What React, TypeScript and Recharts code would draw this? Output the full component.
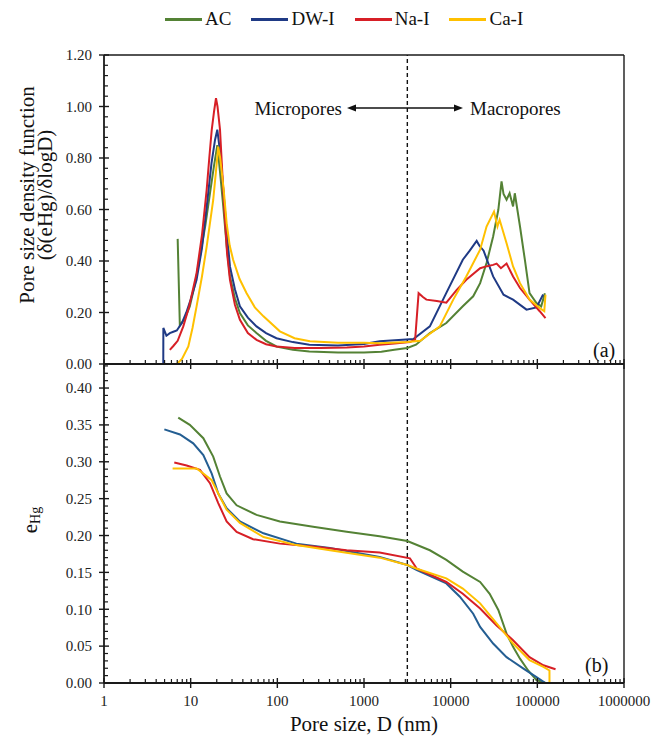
import React from 'react';
import { LineChart, Line, XAxis, YAxis, ReferenceLine, Legend } from 'recharts';

const FONT = 'Liberation Serif, DejaVu Serif, serif';
const AXIS = '#1a1a1a';

const seriesNames = ['AC', 'DW-I', 'Na-I', 'Ca-I'];
const seriesColorsTop = ['#548235', '#1F3A85', '#D71F26', '#FFC000'];
const seriesColorsBottom = ['#548235', '#245E92', '#D71F26', '#FFC000'];

// (a) Pore size density function: pore size D (nm) / value
const acPsdD = [7.08, 7.5, 8.51, 9.77, 11.2, 12.8, 14.8, 16.7, 18.6, 20.3, 21.9, 23.8, 26.0, 28.4, 32.4, 37.0, 45.7, 57.5, 74.1, 97.7, 151, 234, 501, 1000, 1585, 2239, 3162, 3981, 5754, 8913, 13804, 18197, 21878, 25942, 30903, 35481, 38637, 40738, 44157, 47863, 52481, 54954, 63096, 71779, 81283, 97724, 110917, 122180];
const acPsdV = [0.486, 0.15, 0.175, 0.224, 0.31, 0.417, 0.54, 0.663, 0.77, 0.85, 0.74, 0.61, 0.46, 0.34, 0.255, 0.198, 0.15, 0.12, 0.09, 0.068, 0.055, 0.049, 0.045, 0.045, 0.048, 0.055, 0.062, 0.075, 0.12, 0.159, 0.224, 0.263, 0.314, 0.392, 0.495, 0.599, 0.709, 0.66, 0.638, 0.663, 0.612, 0.663, 0.534, 0.405, 0.275, 0.237, 0.224, 0.275];

const dwPsdD = [4.83, 4.84, 5.25, 5.75, 6.31, 6.92, 7.94, 8.91, 10, 11.7, 13.5, 15.3, 17.4, 19.1, 20.3, 21.9, 23.8, 26.0, 28.4, 32.4, 37.0, 45.7, 57.5, 74.1, 97.7, 151, 234, 501, 1000, 1514, 2512, 3715, 5754, 8913, 13804, 16596, 19953, 21380, 23988, 30903, 40738, 52481, 74989, 97724, 116681];
const dwPsdV = [0, 0.14, 0.11, 0.12, 0.125, 0.13, 0.16, 0.2, 0.25, 0.327, 0.45, 0.61, 0.78, 0.87, 0.91, 0.82, 0.676, 0.52, 0.379, 0.29, 0.224, 0.18, 0.146, 0.12, 0.10, 0.085, 0.075, 0.072, 0.078, 0.088, 0.093, 0.097, 0.146, 0.276, 0.405, 0.44, 0.478, 0.46, 0.44, 0.34, 0.269, 0.25, 0.211, 0.22, 0.27];

const naPsdD = [5.75, 6.31, 7.08, 8.22, 9.55, 11.7, 13.5, 15.3, 16.4, 17.5, 18.6, 19.6, 20.4, 21.8, 23.2, 24.9, 26.3, 28.4, 32.4, 37.0, 45.7, 57.5, 74.1, 97.7, 158, 316, 631, 1000, 1514, 2239, 3388, 3890, 4266, 4786, 5248, 6918, 8913, 11749, 15136, 21878, 26303, 30903, 33884, 38019, 44157, 52481, 63096, 81283, 107152, 124165];
const naPsdV = [0.055, 0.07, 0.09, 0.146, 0.22, 0.353, 0.5, 0.676, 0.80, 0.909, 0.98, 1.032, 1.0, 0.91, 0.74, 0.56, 0.43, 0.327, 0.23, 0.172, 0.12, 0.094, 0.077, 0.068, 0.062, 0.062, 0.064, 0.068, 0.075, 0.08, 0.085, 0.095, 0.275, 0.26, 0.25, 0.245, 0.238, 0.288, 0.327, 0.372, 0.38, 0.385, 0.39, 0.372, 0.39, 0.34, 0.295, 0.25, 0.204, 0.178];

const caPsdD = [6.03, 6.92, 7.94, 9.40, 10.5, 11.7, 13.5, 15.3, 18.2, 20.0, 20.8, 21.9, 24.0, 26.0, 28.2, 30.9, 36.7, 44.2, 55.0, 69.2, 107, 158, 238, 501, 1000, 1514, 3162, 4467, 7499, 10715, 15136, 21878, 25942, 31623, 34674, 36728, 44157, 52481, 63096, 81283, 107152, 120226, 124165];
const caPsdV = [0, 0, 0.02, 0.068, 0.14, 0.224, 0.34, 0.456, 0.637, 0.78, 0.844, 0.80, 0.68, 0.547, 0.46, 0.405, 0.33, 0.275, 0.22, 0.185, 0.127, 0.1, 0.088, 0.083, 0.083, 0.081, 0.085, 0.09, 0.146, 0.25, 0.34, 0.444, 0.534, 0.592, 0.534, 0.56, 0.469, 0.379, 0.314, 0.25, 0.217, 0.205, 0.269];

// (b) eHg: pore size D (nm) / value
const acEhgD = [7.19, 9.77, 14.0, 18.2, 21.8, 26.0, 33.9, 57.5, 107, 259, 631, 1514, 3162, 5754, 8913, 13804, 21878, 28184, 35481, 44157, 52481, 63096, 78343, 97724, 124165];
const acEhgV = [0.36, 0.35, 0.332, 0.307, 0.28, 0.257, 0.241, 0.228, 0.219, 0.212, 0.205, 0.199, 0.1925, 0.18, 0.167, 0.151, 0.137, 0.121, 0.099, 0.067, 0.049, 0.033, 0.017, 0.004, 0.0];

const dwEhgD = [4.97, 7.53, 10.7, 14.0, 17.5, 20.8, 26.0, 37.0, 69.2, 166, 405, 1514, 3162, 4074, 8913, 12764, 18197, 21878, 30903, 44157, 69183, 97724, 124165];
const dwEhgV = [0.344, 0.337, 0.325, 0.309, 0.284, 0.257, 0.237, 0.219, 0.203, 0.189, 0.183, 0.171, 0.160, 0.153, 0.135, 0.117, 0.094, 0.076, 0.0535, 0.035, 0.0196, 0.008, 0.0];

const naEhgD = [6.47, 8.99, 12.8, 16.7, 20.8, 26.0, 33.9, 52.5, 107, 259, 631, 1514, 3388, 3715, 4074, 8913, 13804, 21878, 33884, 52481, 81283, 117490, 162181];
const naEhgV = [0.299, 0.295, 0.289, 0.271, 0.244, 0.219, 0.205, 0.195, 0.189, 0.185, 0.180, 0.177, 0.169, 0.162, 0.155, 0.137, 0.121, 0.101, 0.078, 0.058, 0.035, 0.024, 0.0186];

const caEhgD = [6.19, 11.7, 14.0, 17.5, 20.8, 26.0, 37.0, 69.2, 166, 405, 1514, 3162, 4074, 8913, 13804, 21878, 33884, 52481, 81283, 117490, 138038, 138100];
const caEhgV = [0.291, 0.291, 0.284, 0.275, 0.257, 0.235, 0.217, 0.198, 0.187, 0.180, 0.170, 0.160, 0.155, 0.142, 0.128, 0.108, 0.081, 0.0535, 0.031, 0.022, 0.017, 0.0];

// ticks
const xMajorTicks = [1, 10, 100, 1000, 10000, 100000, 1000000];
const xMinorMultipliers = [2, 3, 4, 5, 6, 7, 8, 9];
const topYMajor = [0, 0.2, 0.4, 0.6, 0.8, 1.0, 1.2];
const topYMinorStep = 0.04;
const bottomYMajor = [0, 0.05, 0.1, 0.15, 0.2, 0.25, 0.3, 0.35, 0.4];
const bottomYMinorStep = 0.01;
const boundaryD = 3162;

const xTicks = [
  ...xMajorTicks,
  ...xMajorTicks.slice(0, -1).flatMap((m) => xMinorMultipliers.map((k) => m * k)),
].sort((a, b) => a - b);
const topYTicks = Array.from({ length: 31 }, (_, i) => Math.round(i * topYMinorStep * 100) / 100);
const bottomYTicks = Array.from({ length: 44 }, (_, i) => Math.round(i * bottomYMinorStep * 100) / 100);

const build = (d: number[], v: number[]) => d.map((x, i) => ({ x, y: v[i] }));
const psdSeries = [build(acPsdD, acPsdV), build(dwPsdD, dwPsdV), build(naPsdD, naPsdV), build(caPsdD, caPsdV)];
const ehgSeries = [build(acEhgD, acEhgV), build(dwEhgD, dwEhgV), build(naEhgD, naEhgV), build(caEhgD, caEhgV)];

const isIn = (arr: number[], v: number) => arr.some((a) => Math.abs(a - v) < 1e-9);

const makeXTick = (showLabel: boolean) => (props: any) => {
  const { x, y, payload } = props;
  const v = payload.value;
  const major = isIn(xMajorTicks, v);
  return (
    <g>
      {major ? (
        <line x1={x} x2={x} y1={y - 5} y2={y + 5} stroke={AXIS} strokeWidth={1.4} />
      ) : (
        <line x1={x} x2={x} y1={y - 4} y2={y} stroke={AXIS} strokeWidth={1.2} />
      )}
      {major && showLabel ? (
        <text x={x} y={y + 23} textAnchor="middle" fontFamily={FONT} fontSize={15} fill="#222">
          {String(v)}
        </text>
      ) : null}
    </g>
  );
};

const makeYTick = (majors: number[]) => (props: any) => {
  const { x, y, payload } = props;
  const v = payload.value;
  const major = isIn(majors, v);
  return (
    <g>
      {major ? (
        <line x1={x - 5} x2={x + 5} y1={y} y2={y} stroke={AXIS} strokeWidth={1.4} />
      ) : (
        <line x1={x} x2={x + 4} y1={y} y2={y} stroke={AXIS} strokeWidth={1.2} />
      )}
      {major ? (
        <text x={x - 12} y={y} dy="0.35em" textAnchor="end" fontFamily={FONT} fontSize={15} fill="#222">
          {v.toFixed(2)}
        </text>
      ) : null}
    </g>
  );
};

const renderLegend = () => (
  <div style={{ display: 'flex', alignItems: 'center', fontFamily: FONT, fontSize: 19, lineHeight: '22px', color: '#111' }}>
    {seriesNames.map((n, i) => (
      <div key={n} style={{ display: 'flex', alignItems: 'center', marginRight: 20 }}>
        <span style={{ display: 'inline-block', width: 37, height: 3, background: seriesColorsTop[i], marginRight: 3 }} />
        <span>{n}</span>
      </div>
    ))}
  </div>
);

export default function App() {
  const axisLine = { stroke: AXIS, strokeWidth: 1.8 };
  return (
    <div style={{ position: 'absolute', left: 0, top: 0, width: 655, height: 741, background: '#fff', overflow: 'hidden', fontFamily: FONT }}>
      <div style={{ position: 'absolute', left: 0, top: 0 }}>
        <LineChart width={655} height={380} margin={{ top: 55, right: 31, bottom: 0, left: 0 }}>
          <XAxis dataKey="x" type="number" scale="log" domain={[1, 1000000]} ticks={xTicks} interval={0}
            tick={makeXTick(false)} tickLine={false} tickSize={0} tickMargin={0} height={16}
            axisLine={axisLine} allowDataOverflow />
          <YAxis type="number" domain={[0, 1.2]} ticks={topYTicks} interval={0} tick={makeYTick(topYMajor)}
            tickLine={false} tickSize={0} tickMargin={0} width={104} axisLine={axisLine} allowDataOverflow />
          <ReferenceLine x={boundaryD} stroke="#111" strokeDasharray="4 3" strokeWidth={1.4} />
          <ReferenceLine x={1000000} stroke={AXIS} strokeWidth={1.4} />
          <ReferenceLine y={1.2} stroke={AXIS} strokeWidth={1.4} />
          {psdSeries.map((d, i) => (
            <Line key={seriesNames[i]} data={d} dataKey="y" name={seriesNames[i]} stroke={seriesColorsTop[i]}
              strokeWidth={2} dot={false} type="linear" isAnimationActive={false} />
          ))}
          <Legend layout="horizontal" verticalAlign="middle" align="center" content={renderLegend}
            wrapperStyle={{ left: 165, top: 8, width: 440, height: 22 }} />
        </LineChart>
      </div>
      <div style={{ position: 'absolute', left: 0, top: 364 }}>
        <LineChart width={655} height={377} margin={{ top: 0, right: 31, bottom: 0, left: 0 }}>
          <XAxis dataKey="x" type="number" scale="log" domain={[1, 1000000]} ticks={xTicks} interval={0}
            tick={makeXTick(true)} tickLine={false} tickSize={0} tickMargin={0} height={58}
            axisLine={axisLine} allowDataOverflow />
          <YAxis type="number" domain={[0, 0.4326]} ticks={bottomYTicks} interval={0} tick={makeYTick(bottomYMajor)}
            tickLine={false} tickSize={0} tickMargin={0} width={104} axisLine={axisLine} allowDataOverflow />
          <ReferenceLine x={boundaryD} stroke="#111" strokeDasharray="4 3" strokeWidth={1.4} />
          <ReferenceLine x={1000000} stroke={AXIS} strokeWidth={1.4} />
          {ehgSeries.map((d, i) => (
            <Line key={seriesNames[i]} data={d} dataKey="y" name={seriesNames[i]} stroke={seriesColorsBottom[i]}
              strokeWidth={2} dot={false} type="linear" isAnimationActive={false} />
          ))}
        </LineChart>
      </div>
      <svg width={655} height={741} style={{ position: 'absolute', left: 0, top: 0, pointerEvents: 'none' }}>
        <g fontFamily={FONT} fill="#111">
          <text x={27} y={195} transform="rotate(-90 27 195)" textAnchor="middle" dominantBaseline="central" fontSize={21}>
            Pore size density function
          </text>
          <text x={45} y={195} transform="rotate(-90 45 195)" textAnchor="middle" dominantBaseline="central" fontSize={21}>
            (δ(eHg)/δlogD)
          </text>
          <text x={30} y={520} transform="rotate(-90 30 520)" textAnchor="middle" dominantBaseline="central" fontSize={21}>
            e<tspan fontSize={14} dy={5}>Hg</tspan>
          </text>
          <text x={342} y={108} textAnchor="end" dominantBaseline="central" fontSize={19}>Micropores</text>
          <text x={470} y={108} textAnchor="start" dominantBaseline="central" fontSize={19}>Macropores</text>
          <line x1={354} x2={456} y1={108} y2={108} stroke="#111" strokeWidth={1.3} />
          <polygon points="347,108 356,104.5 356,111.5" fill="#111" />
          <polygon points="463,108 454,104.5 454,111.5" fill="#111" />
          <text x={593} y={350} dominantBaseline="central" fontSize={20}>(a)</text>
          <text x={585} y={665} dominantBaseline="central" fontSize={20}>(b)</text>
          <text x={364} y={724} textAnchor="middle" dominantBaseline="central" fontSize={21}>Pore size, D (nm)</text>
        </g>
      </svg>
    </div>
  );
}
